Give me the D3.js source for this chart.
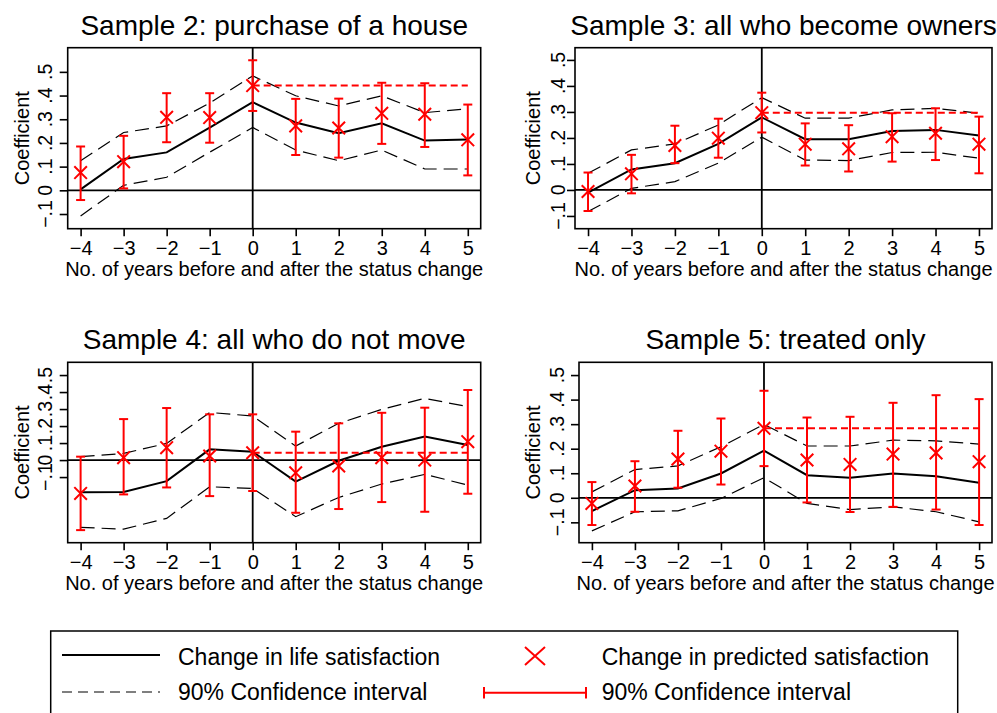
<!DOCTYPE html>
<html>
<head>
<meta charset="utf-8">
<title>Event study panels</title>
<script src="https://cdn.jsdelivr.net/npm/d3@7"></script>
<style>
body { margin: 0; background: #fff; }
svg { display: block; font-family: "Liberation Sans", Arial, Helvetica, sans-serif; }
</style>
</head>
<body>
<div id="chart"></div>
<script>
// x categories and y ticks
var years = [-4, -3, -2, -1, 0, 1, 2, 3, 4, 5];
var yTicks = [-0.1, 0, 0.1, 0.2, 0.3, 0.4, 0.5];

var titles = ["Sample 2: purchase of a house", "Sample 3: all who become owners",
              "Sample 4: all who do not move", "Sample 5: treated only"];

// Sample 2
var life2    = [0.004, 0.132, 0.160, 0.265, 0.372, 0.286, 0.241, 0.283, 0.210, 0.215];
var lifeHi2  = [0.125, 0.244, 0.272, 0.368, 0.483, 0.399, 0.356, 0.399, 0.328, 0.344];
var lifeLo2  = [-0.108, 0.021, 0.055, 0.161, 0.265, 0.170, 0.125, 0.170, 0.090, 0.090];
var pred2    = [0.075, 0.121, 0.308, 0.307, 0.442, 0.272, 0.263, 0.325, 0.321, 0.213];
var predHi2  = [0.185, 0.230, 0.410, 0.410, 0.549, 0.386, 0.387, 0.454, 0.452, 0.362];
var predLo2  = [-0.041, 0.008, 0.203, 0.201, 0.335, 0.149, 0.138, 0.196, 0.183, 0.063];

// Sample 3
var life3    = [-0.010, 0.079, 0.103, 0.177, 0.279, 0.195, 0.195, 0.227, 0.231, 0.209];
var lifeHi3  = [0.064, 0.154, 0.177, 0.250, 0.355, 0.276, 0.276, 0.308, 0.314, 0.295];
var lifeLo3  = [-0.083, 0.006, 0.032, 0.103, 0.203, 0.115, 0.113, 0.144, 0.145, 0.122];
var pred3    = [-0.006, 0.062, 0.171, 0.199, 0.297, 0.176, 0.158, 0.205, 0.218, 0.176];
var predHi3  = [0.067, 0.135, 0.247, 0.274, 0.374, 0.256, 0.249, 0.295, 0.314, 0.282];
var predLo3  = [-0.081, -0.013, 0.103, 0.124, 0.221, 0.094, 0.071, 0.109, 0.115, 0.064];

// Sample 4
var life4    = [-0.190, -0.188, -0.124, 0.063, 0.049, -0.127, -0.004, 0.078, 0.139, 0.088];
var lifeHi4  = [0.020, 0.039, 0.098, 0.280, 0.259, 0.082, 0.216, 0.298, 0.363, 0.314];
var lifeLo4  = [-0.396, -0.406, -0.343, -0.157, -0.167, -0.333, -0.220, -0.141, -0.084, -0.147];
var pred4    = [-0.196, 0.014, 0.073, 0.024, 0.043, -0.075, -0.035, 0.014, 0.000, 0.108];
var predHi4  = [0.020, 0.241, 0.306, 0.269, 0.269, 0.167, 0.216, 0.278, 0.308, 0.412];
var predLo4  = [-0.412, -0.202, -0.161, -0.212, -0.182, -0.310, -0.288, -0.247, -0.304, -0.198];

// Sample 5
var life5    = [-0.054, 0.031, 0.038, 0.099, 0.192, 0.092, 0.082, 0.099, 0.088, 0.061];
var lifeHi5  = [0.024, 0.115, 0.130, 0.208, 0.299, 0.211, 0.211, 0.235, 0.232, 0.219];
var lifeLo5  = [-0.135, -0.057, -0.053, -0.003, 0.082, -0.023, -0.048, -0.037, -0.057, -0.098];
var pred5    = [-0.023, 0.048, 0.158, 0.190, 0.283, 0.154, 0.136, 0.178, 0.183, 0.147];
var predHi5  = [0.064, 0.149, 0.273, 0.323, 0.436, 0.327, 0.330, 0.387, 0.418, 0.402];
var predLo5  = [-0.111, -0.057, 0.041, 0.054, 0.129, -0.019, -0.058, -0.037, -0.048, -0.111];

var series = [
  [life2, lifeHi2, lifeLo2, pred2, predHi2, predLo2],
  [life3, lifeHi3, lifeLo3, pred3, predHi3, predLo3],
  [life4, lifeHi4, lifeLo4, pred4, predHi4, predLo4],
  [life5, lifeHi5, lifeLo5, pred5, predHi5, predLo5]
];

// plot boxes (pixels) and y ranges of each panel
var boxes = [
  {l: 67.7, t: 47.7, r: 480.7, b: 228.7, y0: -0.162, y1: 0.602, tick: 16, lab: 39},
  {l: 575, t: 47.7, r: 992, b: 228.7, y0: -0.149, y1: 0.547, tick: 10, lab: 35},
  {l: 67.7, t: 362.3, r: 480.7, b: 542.7, y0: -0.486, y1: 0.575, tick: 16, lab: 39},
  {l: 579, t: 362.3, r: 992, b: 542.7, y0: -0.183, y1: 0.552, tick: 15, lab: 39}
];

var svgWidth = 997, svgHeight = 713;
var svg = d3.select("#chart").append("svg")
    .attr("width", svgWidth)
    .attr("height", svgHeight);

var red = "#ff0000";

function fmtY(d) {
  if (Math.abs(d) < 1e-9) return "0";
  return (d < 0 ? "\u2212" : "") + "." + Math.round(Math.abs(d) * 10);
}

function panel(i) {
  var bx = boxes[i], s = series[i];
  var x = d3.scaleLinear().domain([-4.3, 5.3]).range([bx.l, bx.r]);
  var y = d3.scaleLinear().domain([bx.y0, bx.y1]).range([bx.b, bx.t]);
  var g = svg.append("g");

  // title
  g.append("text")
      .attr("x", (bx.l + bx.r) / 2)
      .attr("y", bx.t - 13)
      .attr("text-anchor", "middle")
      .attr("font-size", "28px")
      .text(titles[i]);

  // axes
  var xa = g.append("g")
      .attr("transform", "translate(0," + bx.b + ")")
      .call(d3.axisBottom(x).tickValues(years).tickSize(7.5)
            .tickFormat(function(d) { return d < 0 ? "\u2212" + (-d) : d; }));
  xa.select(".domain").remove();
  xa.selectAll("line").attr("stroke", "#000").attr("stroke-width", 1.6);
  xa.selectAll("text")
      .attr("y", 26).attr("dy", null)
      .attr("fill", "#000")
      .attr("font-size", "20px")
      .attr("font-family", null);

  var ya = g.append("g")
      .attr("transform", "translate(" + bx.l + ",0)")
      .call(d3.axisLeft(y).tickValues(yTicks).tickSize(8).tickFormat(""));
  ya.select(".domain").remove();
  ya.selectAll("line").attr("stroke", "#000").attr("stroke-width", 1.6);

  g.selectAll(".ylab")
      .data(yTicks)
      .enter()
      .append("text")
      .attr("class", "ylab")
      .attr("transform", function(d) { return "translate(" + (bx.l - bx.tick) + "," + y(d) + ") rotate(-90)"; })
      .attr("text-anchor", "middle")
      .attr("font-size", "19.5px")
      .text(fmtY);

  g.append("text")
      .attr("transform", "translate(" + (bx.l - bx.lab) + "," + ((bx.t + bx.b) / 2) + ") rotate(-90)")
      .attr("text-anchor", "middle")
      .attr("font-size", "20px")
      .text("Coefficient");

  g.append("text")
      .attr("x", (bx.l + bx.r) / 2)
      .attr("y", bx.b + 47)
      .attr("text-anchor", "middle")
      .attr("font-size", "20px")
      .text("No. of years before and after the status change");

  // reference lines
  g.append("line")
      .attr("x1", bx.l).attr("x2", bx.r)
      .attr("y1", y(0)).attr("y2", y(0))
      .attr("stroke", "#000").attr("stroke-width", 1.8);
  g.append("line")
      .attr("x1", x(0)).attr("x2", x(0))
      .attr("y1", bx.t).attr("y2", bx.b)
      .attr("stroke", "#000").attr("stroke-width", 1.8);

  // black lines
  var line = function(arr) {
    return d3.line()
      .x(function(d, k) { return x(years[k]); })
      .y(function(d) { return y(d); })(arr);
  };
  g.append("path").attr("d", line(s[1]))
      .attr("fill", "none").attr("stroke", "#000").attr("stroke-width", 1.2)
      .attr("stroke-dasharray", "14,7");
  g.append("path").attr("d", line(s[2]))
      .attr("fill", "none").attr("stroke", "#000").attr("stroke-width", 1.2)
      .attr("stroke-dasharray", "14,7");
  g.append("path").attr("d", line(s[0]))
      .attr("fill", "none").attr("stroke", "#000").attr("stroke-width", 2);

  // red dashed level of year 0 prediction
  var p0 = s[3][years.indexOf(0)];
  g.append("line")
      .attr("x1", x(0)).attr("x2", x(5))
      .attr("y1", y(p0)).attr("y2", y(p0))
      .attr("stroke", red).attr("stroke-width", 2)
      .attr("stroke-dasharray", "7,4");

  // error bars
  var bars = g.selectAll(".err")
      .data(years)
      .enter()
      .append("g")
      .attr("class", "err")
      .attr("stroke", red)
      .attr("stroke-width", 2);
  bars.append("line")
      .attr("x1", function(d) { return x(d); })
      .attr("x2", function(d) { return x(d); })
      .attr("y1", function(d, k) { return y(s[5][k]); })
      .attr("y2", function(d, k) { return y(s[4][k]); });
  bars.append("line")
      .attr("x1", function(d) { return x(d) - 4.5; })
      .attr("x2", function(d) { return x(d) + 4.5; })
      .attr("y1", function(d, k) { return y(s[4][k]); })
      .attr("y2", function(d, k) { return y(s[4][k]); });
  bars.append("line")
      .attr("x1", function(d) { return x(d) - 4.5; })
      .attr("x2", function(d) { return x(d) + 4.5; })
      .attr("y1", function(d, k) { return y(s[5][k]); })
      .attr("y2", function(d, k) { return y(s[5][k]); });
  // X markers
  bars.append("path")
      .attr("d", function(d, k) {
        var cx = x(d), cy = y(s[3][k]), h = 6.3;
        return "M" + (cx - h) + "," + (cy - h) + "L" + (cx + h) + "," + (cy + h) +
               "M" + (cx - h) + "," + (cy + h) + "L" + (cx + h) + "," + (cy - h);
      })
      .attr("fill", "none");

  // frame
  g.append("rect")
      .attr("x", bx.l).attr("y", bx.t)
      .attr("width", bx.r - bx.l).attr("height", bx.b - bx.t)
      .attr("fill", "none").attr("stroke", "#000").attr("stroke-width", 1.6);
}

for (var i = 0; i < 4; i++) panel(i);

// legend
var lg = svg.append("g");
lg.append("rect")
    .attr("x", 50.7).attr("y", 631)
    .attr("width", 907).attr("height", 100)
    .attr("fill", "none").attr("stroke", "#000").attr("stroke-width", 1.5);

lg.append("line").attr("x1", 62).attr("x2", 160).attr("y1", 655).attr("y2", 655)
    .attr("stroke", "#000").attr("stroke-width", 2);
lg.append("line").attr("x1", 62).attr("x2", 160).attr("y1", 692).attr("y2", 692)
    .attr("stroke", "#000").attr("stroke-width", 1.2).attr("stroke-dasharray", "10,6");
lg.append("path")
    .attr("d", "M525,647L545,665M525,665L545,647")
    .attr("stroke", red).attr("stroke-width", 2).attr("fill", "none");
lg.append("path")
    .attr("d", "M484,692.7L586,692.7M484,687L484,698.4M586,687L586,698.4")
    .attr("stroke", red).attr("stroke-width", 2).attr("fill", "none");

var legendText = [
  {x: 178, y: 665, t: "Change in life satisfaction"},
  {x: 178, y: 700, t: "90% Confidence interval"},
  {x: 601.7, y: 665, t: "Change in predicted satisfaction"},
  {x: 601.7, y: 700, t: "90% Confidence interval"}
];
lg.selectAll(".lt")
    .data(legendText)
    .enter()
    .append("text")
    .attr("x", function(d) { return d.x; })
    .attr("y", function(d) { return d.y; })
    .attr("font-size", "23px")
    .text(function(d) { return d.t; });
</script>
</body>
</html>
